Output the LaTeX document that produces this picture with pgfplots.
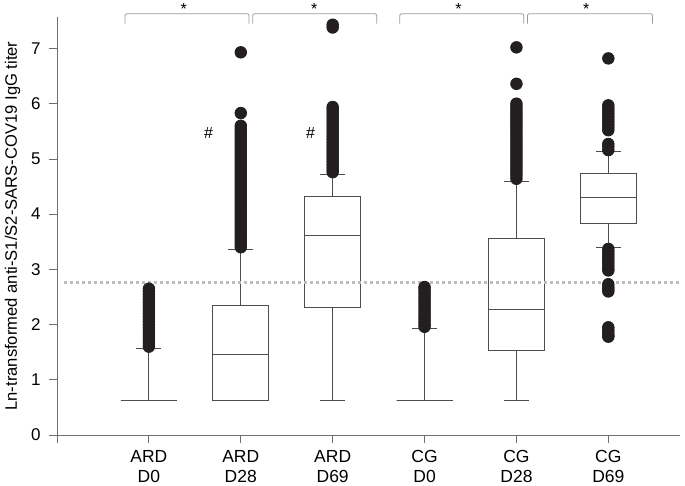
\documentclass[border=0pt]{standalone}
\usepackage{fontspec}
\setmainfont{Liberation Sans}
\usepackage{pgfplots}
\usepgfplotslibrary{statistics}
\pgfplotsset{compat=1.18}
\definecolor{outl}{HTML}{231F20}
\definecolor{boxc}{HTML}{4D4D4D}
\definecolor{axc}{HTML}{6E6E6E}
\definecolor{brk}{HTML}{9A9A9A}
\definecolor{refl}{HTML}{BDBDBD}
\begin{document}
\begin{tikzpicture}
\begin{axis}[
    scale only axis,
    width=623pt, height=418pt,
    xmin=0, xmax=6.78,
    ymin=0, ymax=7.57,
    clip=false,
    axis x line*=bottom, axis y line*=left,
    axis line style={axc, line width=0.8pt, -},
    tick style={axc, line width=0.8pt},
    tick align=outside,
    major tick length=8pt,
    xtick={0,1,2,3,4,5,6},
    xticklabels={{},{ARD\\D0},{ARD\\D28},{ARD\\D69},{CG\\D0},{CG\\D28},{CG\\D69}},
    xticklabel style={align=center, yshift=-4pt, font=\fontsize{17.5}{19.5}\selectfont},
    ytick={0,1,2,3,4,5,6,7},
    yticklabel style={xshift=-5pt, font=\fontsize{17}{19}\selectfont},
    /pgf/number format/assume math mode=true,
    ylabel={Ln-transformed anti-S1/S2-SARS-COV19 IgG titer},
    ylabel style={at={(rel axis cs:0,0.5)}, anchor=base, yshift=40pt,
        font=\fontsize{16.6}{19}\selectfont},
    boxplot/draw direction=y,
    boxplot/box extend=0.61,
    boxplot/whisker extend=0.27,
    every boxplot/.style={boxc, line width=0.8pt, mark=*, mark size=5.8pt,
        mark options={fill=outl, draw=outl}},
]
\coordinate (ll) at (rel axis cs:0,0);
% ARD D0
\addplot[boxplot prepared={draw position=1,
    lower whisker=0.63, lower quartile=0.63, median=0.63,
    upper quartile=0.63, upper whisker=1.57}]
  table[row sep=\\, y index=0] {
  1.60\\1.65\\1.70\\1.75\\1.80\\1.85\\1.90\\1.95\\2.00\\2.05\\2.10\\2.15\\
  2.20\\2.25\\2.30\\2.35\\2.40\\2.45\\2.50\\2.55\\2.60\\2.65\\};
% ARD D28
\addplot[boxplot prepared={draw position=2,
    lower whisker=0.63, lower quartile=0.63, median=1.46,
    upper quartile=2.34, upper whisker=3.36}]
  table[row sep=\\, y index=0] {
  3.40\\3.45\\3.50\\3.55\\3.60\\3.65\\3.70\\3.75\\3.80\\3.85\\3.90\\3.95\\
  4.00\\4.05\\4.10\\4.15\\4.20\\4.25\\4.30\\4.35\\4.40\\4.45\\4.50\\4.55\\
  4.60\\4.65\\4.70\\4.75\\4.80\\4.85\\4.90\\4.95\\5.00\\5.05\\5.10\\5.15\\
  5.20\\5.25\\5.30\\5.35\\5.40\\5.45\\5.50\\5.55\\5.60\\5.83\\6.93\\};
% ARD D69
\addplot[boxplot prepared={draw position=3,
    lower whisker=0.63, lower quartile=2.31, median=3.62,
    upper quartile=4.32, upper whisker=4.72}]
  table[row sep=\\, y index=0] {
  4.76\\4.80\\4.85\\4.90\\4.95\\5.00\\5.05\\5.10\\5.15\\5.20\\5.25\\5.30\\
  5.35\\5.40\\5.45\\5.50\\5.55\\5.60\\5.65\\5.70\\5.75\\5.80\\5.85\\5.90\\
  5.94\\7.38\\7.43\\};
% CG D0
\addplot[boxplot prepared={draw position=4,
    lower whisker=0.63, lower quartile=0.63, median=0.63,
    upper quartile=0.63, upper whisker=1.93}]
  table[row sep=\\, y index=0] {
  1.96\\2.00\\2.05\\2.10\\2.15\\2.20\\2.25\\2.30\\2.35\\2.40\\2.45\\2.50\\
  2.55\\2.60\\2.65\\2.68\\};
% CG D28
\addplot[boxplot prepared={draw position=5,
    lower whisker=0.63, lower quartile=1.54, median=2.28,
    upper quartile=3.56, upper whisker=4.60}]
  table[row sep=\\, y index=0] {
  4.64\\4.70\\4.75\\4.80\\4.85\\4.90\\4.95\\5.00\\5.05\\5.10\\5.15\\5.20\\
  5.25\\5.30\\5.35\\5.40\\5.45\\5.50\\5.55\\5.60\\5.65\\5.70\\5.75\\5.80\\
  5.85\\5.90\\5.95\\6.00\\6.36\\7.02\\};
% CG D69
\addplot[boxplot prepared={draw position=6,
    lower whisker=3.40, lower quartile=3.83, median=4.31,
    upper quartile=4.73, upper whisker=5.13}]
  table[row sep=\\, y index=0] {
  5.16\\5.22\\5.27\\5.52\\5.57\\5.62\\5.67\\5.72\\5.77\\5.82\\5.87\\5.92\\
  5.97\\6.82\\3.37\\3.32\\3.27\\3.22\\3.17\\3.12\\3.07\\3.02\\2.98\\
  2.73\\2.68\\2.64\\2.60\\1.95\\1.90\\1.85\\1.80\\1.78\\};
% reference line
\addplot[refl, line width=3pt, dash pattern=on 3pt off 3pt]
  coordinates {(0.08,2.76)(6.78,2.76)};
% significance brackets
\draw[brk, line width=0.8pt, rounded corners=2pt]
  (axis cs:0.74,7.45) -- (axis cs:0.74,7.63) -- (axis cs:2.09,7.63) -- (axis cs:2.09,7.45);
\draw[brk, line width=0.8pt, rounded corners=2pt]
  (axis cs:2.13,7.45) -- (axis cs:2.13,7.63) -- (axis cs:3.48,7.63) -- (axis cs:3.48,7.45);
\draw[brk, line width=0.8pt, rounded corners=2pt]
  (axis cs:3.73,7.45) -- (axis cs:3.73,7.63) -- (axis cs:5.08,7.63) -- (axis cs:5.08,7.45);
\draw[brk, line width=0.8pt, rounded corners=2pt]
  (axis cs:5.12,7.45) -- (axis cs:5.12,7.63) -- (axis cs:6.48,7.63) -- (axis cs:6.48,7.45);
\node[anchor=base, inner sep=0pt, font=\fontsize{16}{19}\selectfont] at (axis cs:1.38,7.62) {*};
\node[anchor=base, inner sep=0pt, font=\fontsize{16}{19}\selectfont] at (axis cs:2.80,7.62) {*};
\node[anchor=base, inner sep=0pt, font=\fontsize{16}{19}\selectfont] at (axis cs:4.37,7.62) {*};
\node[anchor=base, inner sep=0pt, font=\fontsize{16}{19}\selectfont] at (axis cs:5.76,7.62) {*};
\node[font=\fontsize{16}{18}\selectfont] at (axis cs:1.65,5.47) {\#};
\node[font=\fontsize{16}{18}\selectfont] at (axis cs:2.76,5.47) {\#};
\end{axis}
\pgfresetboundingbox
\path (ll) ++(-57pt,-51pt) rectangle ++(685pt,486pt);
\end{tikzpicture}
\end{document}
